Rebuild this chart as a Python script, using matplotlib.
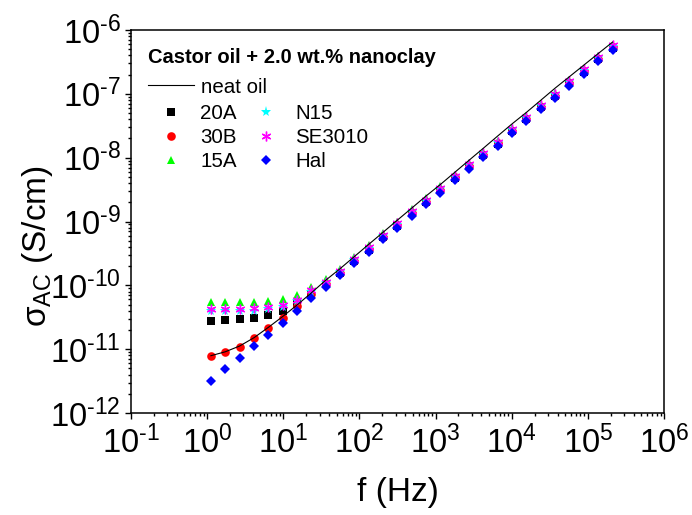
import numpy as np
import matplotlib
matplotlib.use("Agg")
import matplotlib.pyplot as plt
import matplotlib.ticker as mticker

plt.rcParams["font.family"] = ["Liberation Sans", "DejaVu Sans"]
plt.rcParams["mathtext.fontset"] = "custom"
plt.rcParams["mathtext.rm"] = "Liberation Sans"
plt.rcParams["mathtext.it"] = "Liberation Sans:italic"
plt.rcParams["mathtext.bf"] = "Liberation Sans:bold"
plt.rcParams["mathtext.default"] = "regular"

# frequency sweep (Hz)
freq = [1.12, 1.73, 2.67, 4.12, 6.35, 9.80, 15.1, 23.3, 36.0, 55.6,
        85.7, 132, 204, 315, 486, 750, 1157, 1786, 2756, 4252,
        6561, 10124, 15621, 24103, 37191, 57386, 88547, 136628, 210817]

# AC conductivity (S/cm)
neat_oil = [7.9e-12, 9.1e-12, 1.12e-11, 1.51e-11, 2.19e-11, 3.24e-11, 4.9e-11, 7.6e-11, 1.2e-10, 1.82e-10,
            2.82e-10, 4.37e-10, 6.76e-10, 1.05e-9, 1.62e-9, 2.51e-9, 3.8e-9, 5.89e-9, 9.12e-9, 1.41e-8,
            2.19e-8, 3.39e-8, 5.13e-8, 7.94e-8, 1.23e-7, 1.86e-7, 2.82e-7, 4.27e-7, 6.46e-7]
s_20A = [2.8e-11, 2.85e-11, 2.95e-11, 3.1e-11, 3.4e-11, 4.0e-11, 5.1e-11, 7.4e-11, 1.04e-10, 1.55e-10,
         2.41e-10, 3.63e-10, 5.74e-10, 8.6e-10, 1.35e-9, 2.03e-9, 3.09e-9, 4.85e-9, 7.33e-9, 1.1e-8,
         1.65e-8, 2.62e-8, 4.0e-8, 6.23e-8, 9.3e-8, 1.47e-7, 2.23e-7, 3.5e-7, 5.3e-7]
s_30B = [7.8e-12, 8.9e-12, 1.1e-11, 1.48e-11, 2.13e-11, 3.1e-11, 4.7e-11, 7.4e-11, 1.05e-10, 1.56e-10,
         2.43e-10, 3.66e-10, 5.8e-10, 8.71e-10, 1.36e-9, 2.05e-9, 3.12e-9, 4.9e-9, 7.41e-9, 1.12e-8,
         1.67e-8, 2.65e-8, 4.05e-8, 6.3e-8, 9.38e-8, 1.49e-7, 2.25e-7, 3.53e-7, 5.35e-7]
s_15A = [5.4e-11, 5.4e-11, 5.4e-11, 5.5e-11, 5.7e-11, 6.0e-11, 7.1e-11, 9.3e-11, 1.24e-10, 1.79e-10,
         2.8e-10, 4.21e-10, 6.65e-10, 1.0e-9, 1.56e-9, 2.35e-9, 3.58e-9, 5.37e-9, 8.13e-9, 1.22e-8,
         1.84e-8, 2.9e-8, 4.44e-8, 6.9e-8, 1.03e-7, 1.63e-7, 2.47e-7, 3.86e-7, 5.86e-7]
s_N15 = [3.9e-11, 3.9e-11, 3.9e-11, 4.0e-11, 4.2e-11, 4.6e-11, 5.6e-11, 7.9e-11, 1.08e-10, 1.6e-10,
         2.49e-10, 3.75e-10, 5.93e-10, 8.91e-10, 1.39e-9, 2.09e-9, 3.19e-9, 5.01e-9, 7.59e-9, 1.14e-8,
         1.71e-8, 2.71e-8, 4.14e-8, 6.44e-8, 9.59e-8, 1.52e-7, 2.3e-7, 3.61e-7, 5.47e-7]
s_SE3010 = [4.3e-11, 4.3e-11, 4.3e-11, 4.4e-11, 4.6e-11, 5.0e-11, 5.9e-11, 8.3e-11, 1.12e-10, 1.67e-10,
            2.61e-10, 3.93e-10, 6.21e-10, 9.33e-10, 1.46e-9, 2.19e-9, 3.34e-9, 5.25e-9, 7.94e-9, 1.19e-8,
            1.79e-8, 2.84e-8, 4.34e-8, 6.75e-8, 1.0e-7, 1.59e-7, 2.41e-7, 3.78e-7, 5.73e-7]
s_Hal = [3.2e-12, 4.9e-12, 7.3e-12, 1.12e-11, 1.67e-11, 2.6e-11, 4.0e-11, 6.3e-11, 9.5e-11, 1.43e-10,
         2.22e-10, 3.34e-10, 5.29e-10, 7.94e-10, 1.24e-9, 1.86e-9, 2.84e-9, 4.47e-9, 6.76e-9, 1.02e-8,
         1.52e-8, 2.42e-8, 3.69e-8, 5.74e-8, 8.55e-8, 1.35e-7, 2.05e-7, 3.22e-7, 4.88e-7]

# label, values, marker, colour, marker size
series = [
    ("20A",    s_20A,    "s",       "black",   5.4),
    ("30B",    s_30B,    "o",       "red",     6.2),
    ("15A",    s_15A,    "^",       "#00ff00", 6.4),
    ("N15",    s_N15,    "*",       "cyan",    8.0),
    ("SE3010", s_SE3010, (6, 2, 0), "magenta", 7.0),
    ("Hal",    s_Hal,    "D",       "blue",    5.2),
]


def decade_label(x, _):
    # short hyphen in the exponent rather than the long minus sign
    exp = str(int(round(np.log10(x)))).replace("-", "\u2010")
    return r"$\mathregular{10^{%s}}$" % exp


fig = plt.figure(figsize=(6.92, 5.15), dpi=100)
ax = fig.add_axes([131 / 692, 102 / 515, 533 / 692, 383 / 515])

handles = []
for name, vals, mk, col, ms in series:
    h, = ax.plot(freq, vals, linestyle="none", marker=mk, color=col,
                 markersize=ms, markeredgewidth=1.0 if mk == (6, 2, 0) else 0,
                 markeredgecolor=col, label=name)
    handles.append(h)
line, = ax.plot(freq, neat_oil, color="black", linewidth=0.8, zorder=5)

ax.set_xscale("log")
ax.set_yscale("log")
ax.set_xlim(1e-1, 1e6)
ax.set_ylim(1e-12, 1e-6)
for axis in (ax.xaxis, ax.yaxis):
    axis.set_major_locator(mticker.LogLocator(base=10, numticks=20))
    axis.set_minor_locator(mticker.LogLocator(base=10, subs=range(2, 10), numticks=20))
    axis.set_minor_formatter(mticker.NullFormatter())
    axis.set_major_formatter(mticker.FuncFormatter(decade_label))

ax.tick_params(which="both", direction="out", top=False, right=False,
               labelsize=23.5, width=1)
ax.tick_params(which="major", length=4.3, pad=3)
ax.tick_params(which="minor", length=2.2)
ax.tick_params(axis="x", which="major", pad=5)
for sp in ax.spines.values():
    sp.set_linewidth(1.1)

ax.set_xlabel("f (Hz)", fontsize=24)
ax.xaxis.set_label_coords(0.5, -0.167)
ax.set_ylabel(r"σ$_{\mathregular{AC}}$ (S/cm)", fontsize=24)
ax.yaxis.set_label_coords(-0.143, 0.437)

leg1 = ax.legend([line], ["neat oil"], title="Castor oil + 2.0 wt.% nanoclay",
                 title_fontproperties={"weight": "bold", "size": 14.5},
                 alignment="left", frameon=False, fontsize=14.8,
                 handlelength=2.23, handletextpad=0.34, borderpad=0,
                 labelspacing=0.5, borderaxespad=0,
                 loc="upper left", bbox_to_anchor=(0.032, 0.952))
ax.add_artist(leg1)
ax.legend(handles=handles, ncol=2, frameon=False, fontsize=14.8, numpoints=1,
          handlelength=2.0, handletextpad=0.43, columnspacing=0.42,
          labelspacing=0.25, borderpad=0, borderaxespad=0,
          loc="upper left", bbox_to_anchor=(0.036, 0.807))

fig.savefig("out.png", dpi=100)
